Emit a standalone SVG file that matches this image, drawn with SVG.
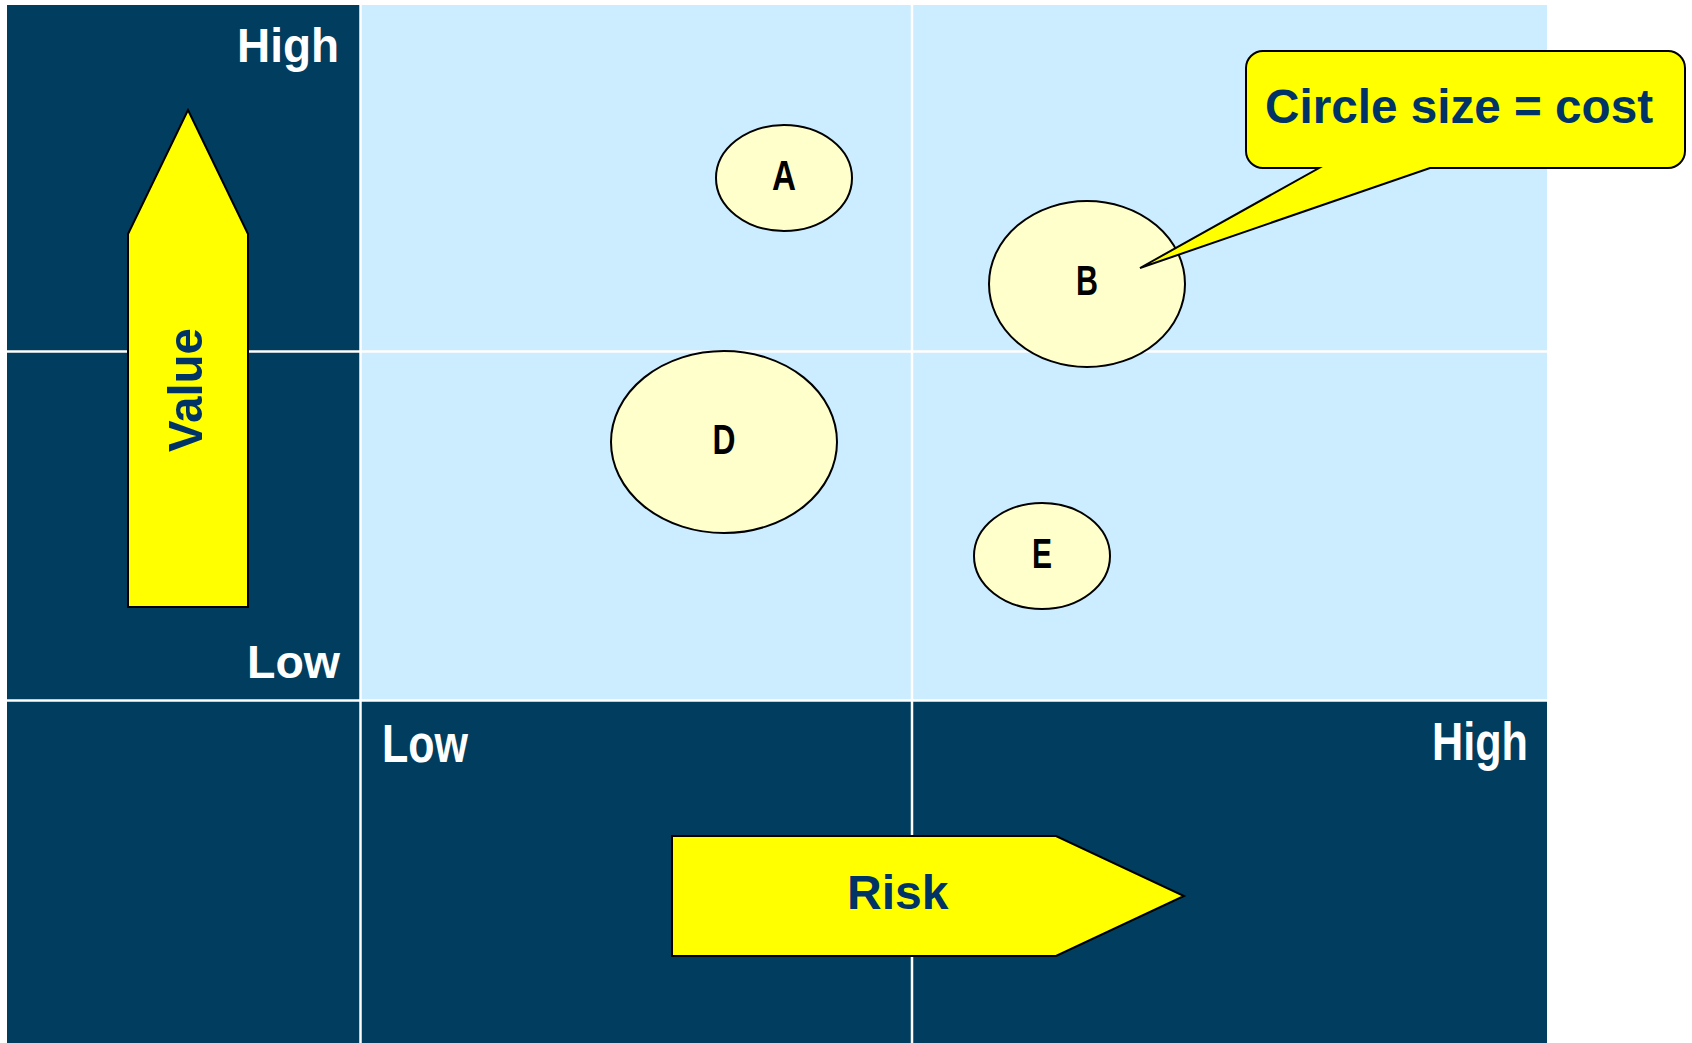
<svg xmlns="http://www.w3.org/2000/svg" width="1692" height="1043" viewBox="0 0 1692 1043">
<style>
.dark{fill:#003D5E}
.light{fill:#CCECFF}
.grid{stroke:#FFFFFF;stroke-width:2.5;fill:none}
.arrow{fill:#FFFF00;stroke:#000000;stroke-width:2}
.bubble{fill:#FFFFCC;stroke:#000000;stroke-width:2}
.axis{font-family:"Liberation Sans",Arial,sans-serif;font-weight:bold;fill:#FFFFFF}
.navy{font-family:"Liberation Sans",Arial,sans-serif;font-weight:bold;fill:#003366}
.letter{font-family:"Liberation Sans Narrow","Liberation Sans",Arial,sans-serif;font-weight:bold;font-size:42px;fill:#000000;text-anchor:middle}
</style>
<rect x="0" y="0" width="1692" height="1043" fill="#FFFFFF"/>
<g id="background">
<rect class="dark" x="7" y="5" width="1540" height="1038"/>
<rect class="light" x="361" y="5" width="1186" height="696"/>
</g>
<g id="grid">
<line class="grid" x1="360.5" y1="5" x2="360.5" y2="1043"/>
<line class="grid" x1="912" y1="5" x2="912" y2="1043"/>
<line class="grid" x1="7" y1="351.5" x2="1547" y2="351.5"/>
<line class="grid" x1="7" y1="700.5" x2="1547" y2="700.5"/>
</g>
<g id="axis-labels">
<text class="axis" x="237" y="62" font-size="48" textLength="102" lengthAdjust="spacingAndGlyphs">High</text>
<text class="axis" x="247" y="678" font-size="46" textLength="93" lengthAdjust="spacingAndGlyphs">Low</text>
<text class="axis" x="382" y="762" font-size="53" textLength="86" lengthAdjust="spacingAndGlyphs">Low</text>
<text class="axis" x="1432" y="760" font-size="53" textLength="96" lengthAdjust="spacingAndGlyphs">High</text>
</g>
<g id="value-arrow">
<path class="arrow" d="M188 110 L248 234 L248 607 L128 607 L128 234 Z"/>
<text class="navy" font-size="49" transform="translate(202 452) rotate(-90)" textLength="124" lengthAdjust="spacingAndGlyphs">Value</text>
</g>
<g id="risk-arrow">
<path class="arrow" d="M672 836 L1056 836 L1184 896 L1056 956 L672 956 Z"/>
<text class="navy" x="847" y="909" font-size="48">Risk</text>
</g>
<g id="node-A">
<ellipse class="bubble" cx="784" cy="178" rx="68" ry="53"/>
<text class="letter" x="784" y="190" textLength="24" lengthAdjust="spacingAndGlyphs">A</text>
</g>
<g id="node-B">
<ellipse class="bubble" cx="1087" cy="284" rx="98" ry="83"/>
<text class="letter" x="1087" y="295" textLength="22" lengthAdjust="spacingAndGlyphs">B</text>
</g>
<g id="node-D">
<ellipse class="bubble" cx="724" cy="442" rx="113" ry="91"/>
<text class="letter" x="724" y="454" textLength="23" lengthAdjust="spacingAndGlyphs">D</text>
</g>
<g id="node-E">
<ellipse class="bubble" cx="1042" cy="556" rx="68" ry="53"/>
<text class="letter" x="1042" y="568" textLength="20" lengthAdjust="spacingAndGlyphs">E</text>
</g>
<g id="callout">
<path class="arrow" d="M1263 51 H1668 A17 17 0 0 1 1685 68 V151 A17 17 0 0 1 1668 168 H1430 L1140 268 L1319 168 H1263 A17 17 0 0 1 1246 151 V68 A17 17 0 0 1 1263 51 Z"/>
<text class="navy" x="1265" y="123" font-size="48" textLength="388" lengthAdjust="spacingAndGlyphs">Circle size = cost</text>
</g>
<g id="connectors"></g>
</svg>
